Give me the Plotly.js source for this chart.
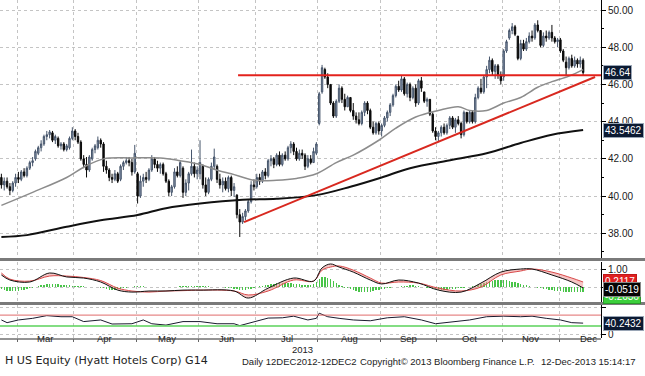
<!DOCTYPE html>
<html><head><meta charset="utf-8">
<script src="https://cdn.plot.ly/plotly-3.0.1.min.js"></script>
<style>html,body{margin:0;padding:0;background:#fff;}#chart{width:645px;height:376px;}</style>
</head><body><div id="chart"></div>
<script>
// ---------- DATA ----------
const firstIdx = -6; // trading-day index of first candle (Mar 1 2013 = 0)
const months = ['Mar','Apr','May','Jun','Jul','Aug','Sep','Oct','Nov','Dec'];
const monthStart = [0,20,42,64,84,106,128,148,171,191,212];
const yearLabel = '2013';

const open = [41.0,40.6,40.8,40.5,40.3,40.7,
41.0,40.9,41.3,41.1,41.5,41.8,42.0,42.3,42.6,42.8,43.2,43.3,43.4,43.0,43.1,42.7,42.8,42.5,42.6,43.1,
43.5,43.2,42.9,42.0,41.7,41.4,42.0,42.5,42.6,43.0,42.8,41.6,41.4,41.0,40.9,41.2,40.9,41.6,41.8,41.9,41.8,41.3,
41.2,40.0,40.8,41.0,40.9,41.4,42.0,41.7,41.5,41.7,41.2,40.8,40.2,40.5,41.3,41.1,41.5,40.2,40.7,41.2,41.6,41.2,
41.2,41.6,40.6,40.2,40.9,41.6,41.6,40.9,40.6,40.8,40.4,41.0,40.3,40.05,39.0,38.6,38.9,39.2,39.7,40.6,
40.5,41.0,40.8,41.3,41.1,41.9,42.0,41.7,42.2,41.7,42.2,42.0,42.6,42.8,42.4,42.0,42.3,42.2,41.6,42.0,41.8,42.3,
43.9,45.6,46.8,46.4,46.0,45.0,44.3,45.1,45.8,45.2,44.8,45.3,44.6,44.3,44.1,43.9,44.5,45.0,44.6,43.7,43.4,43.9,
43.5,43.8,44.2,44.5,44.9,45.4,45.9,45.7,46.3,45.5,46.0,45.3,45.8,45.0,46.2,45.6,45.1,45.2,44.4,43.5,
43.2,43.4,43.7,43.4,43.8,44.2,43.7,44.1,43.9,43.3,44.5,44.0,44.5,44.0,45.3,45.8,45.6,46.4,46.8,47.3,46.7,47.0,46.5,
46.4,47.8,48.5,48.9,49.1,48.6,47.4,48.2,47.9,48.3,48.6,48.5,49.2,48.9,48.1,48.6,48.5,48.8,48.5,48.3,
48.4,47.8,47.2,46.9,47.4,47.0,47.3,47.1,47.3];
const high = [41.2,41.0,41.0,40.7,40.8,41.2,
41.3,41.4,41.5,41.6,41.9,42.1,42.5,42.7,43.0,43.3,43.5,43.55,43.5,43.3,43.2,42.9,42.9,42.8,43.2,43.7,
43.6,43.4,43.0,42.2,42.1,42.2,42.6,42.8,43.2,43.1,42.9,41.9,41.5,41.2,41.4,41.3,41.7,41.9,42.1,42.1,42.0,42.75,
41.3,41.1,41.2,41.3,41.5,42.2,42.1,41.9,41.8,41.8,41.3,40.9,40.6,41.5,41.6,41.9,41.6,40.9,41.3,42.5,41.8,41.6,
43.0,41.7,41.0,41.0,41.8,42.55,41.7,41.2,41.0,41.0,41.1,41.1,40.7,40.1,39.3,39.1,39.3,39.8,40.8,40.9,
41.2,41.2,41.4,41.5,42.0,42.2,42.1,42.3,42.4,42.3,42.4,42.7,42.95,42.9,42.6,42.5,42.5,42.3,42.2,42.2,42.6,42.9,
45.6,47.05,46.9,46.6,46.0,45.1,45.2,46.0,45.9,45.5,45.4,45.3,45.0,44.5,44.5,44.6,45.1,45.1,44.7,44.0,44.0,44.0,
43.9,44.3,44.6,45.0,45.5,46.0,46.2,46.5,46.4,46.1,46.1,45.9,46.0,46.3,46.4,45.6,45.3,45.2,44.5,43.7,
43.5,43.8,43.9,43.9,44.3,44.3,44.2,44.3,44.0,44.6,44.5,44.6,44.6,45.5,45.9,46.3,46.5,47.0,47.5,47.4,47.1,47.1,46.7,
47.9,48.4,49.0,49.3,49.2,48.6,48.4,48.4,48.5,48.8,48.9,49.3,49.45,48.9,48.8,48.9,48.9,49.2,48.6,48.5,
48.5,47.9,47.5,47.5,47.6,47.5,47.4,47.5,47.4];
const low = [40.4,40.3,40.4,40.05,40.2,40.5,
40.7,40.8,41.0,41.0,41.4,41.6,41.9,42.2,42.4,42.7,43.0,43.1,42.9,42.8,42.6,42.5,42.4,42.4,42.5,43.0,
43.0,42.8,41.9,41.5,41.0,41.3,41.9,42.3,42.5,42.6,41.3,41.2,40.8,40.7,40.8,40.7,40.8,41.4,41.7,41.6,41.1,41.2,
39.6,39.9,40.5,40.7,40.8,41.3,41.5,41.3,41.2,41.1,40.7,40.0,40.0,40.4,41.0,41.0,39.9,40.0,40.3,41.1,41.0,40.9,
40.9,40.4,40.0,40.1,40.8,41.4,40.7,40.4,40.2,40.3,40.2,40.0,39.95,38.8,37.8,38.5,38.7,39.1,39.6,40.3,
40.4,40.6,40.7,40.9,41.0,41.6,41.5,41.6,41.6,41.6,41.9,41.9,42.3,42.2,41.9,41.9,42.0,41.4,41.5,41.7,41.8,42.2,
43.8,45.5,46.3,45.8,44.9,44.2,44.2,45.0,45.0,44.6,44.8,44.5,44.1,43.9,43.8,43.8,44.3,44.4,43.6,43.3,43.3,43.3,
43.2,43.7,44.0,44.3,44.8,45.3,45.6,45.6,45.4,45.3,45.1,45.2,44.8,44.9,45.6,45.0,44.8,44.3,43.4,43.0,
42.9,43.2,43.3,43.3,43.6,43.6,43.4,43.8,43.1,43.2,43.9,43.9,43.9,43.9,45.2,45.5,45.5,45.8,46.6,46.5,46.3,46.3,46.0,
46.2,47.7,48.4,48.7,48.6,47.3,47.3,47.8,47.8,48.2,48.3,48.4,48.8,48.0,48.0,48.3,48.4,48.3,48.2,48.0,
47.7,47.2,46.45,46.8,46.9,46.9,46.9,46.9,46.5];
const close = [40.6,40.8,40.5,40.3,40.7,41.0,
40.9,41.3,41.1,41.5,41.8,41.9,42.4,42.6,42.8,43.2,43.3,43.45,43.0,43.2,42.7,42.8,42.5,42.7,43.1,43.5,
43.2,42.9,42.0,41.7,41.4,42.1,42.5,42.7,43.0,42.8,41.6,41.4,41.0,40.9,41.2,40.8,41.6,41.8,41.9,41.8,41.3,42.3,
40.0,40.8,41.0,40.9,41.4,42.0,41.7,41.5,41.7,41.2,40.8,40.2,40.5,41.3,41.1,41.8,40.2,40.7,41.2,41.6,41.2,41.4,
41.8,40.6,40.2,40.9,41.6,42.1,40.9,40.6,40.8,40.4,41.0,40.3,40.5,39.0,38.6,38.9,39.2,39.7,40.6,40.5,
41.0,40.8,41.3,41.1,41.9,42.0,41.7,42.2,41.7,42.2,42.0,42.6,42.8,42.4,42.0,42.3,42.2,41.6,42.0,41.8,42.4,42.8,
45.5,46.9,46.4,46.0,45.0,44.3,45.1,45.8,45.2,44.8,45.3,44.6,44.3,44.1,43.9,44.5,45.0,44.6,43.7,43.4,43.9,43.5,
43.8,44.2,44.5,44.9,45.4,45.9,45.7,46.3,45.5,46.0,45.3,45.8,45.0,46.2,45.8,45.1,45.2,44.4,43.5,43.2,
43.4,43.7,43.4,43.8,44.2,43.7,44.1,43.9,43.3,44.5,44.0,44.5,44.0,45.3,45.8,45.6,46.4,46.8,47.3,46.7,47.0,46.5,46.2,
47.8,48.3,48.9,49.1,48.7,47.4,48.2,47.9,48.3,48.6,48.5,49.2,48.9,48.1,48.6,48.5,48.8,48.5,48.3,48.4,
47.8,47.3,46.9,47.4,47.0,47.3,47.1,47.3,46.64];

const ma50Idx = [-6,5,17,23,30,40,50,57,64,71,75,83,91,98,105,112,118,127,133,140,148,155,159,165,171,177,183,188,194,199];
const ma50Val = [39.5,40.2,41.0,41.55,42.0,42.05,42.05,41.9,41.7,41.35,41.2,40.85,40.85,40.95,41.2,41.8,42.2,43.0,43.65,44.25,44.6,44.8,44.6,44.6,45.0,45.3,45.85,46.15,46.45,46.8];
const ma200Idx = [-6,3,17,29,42,52,64,79,91,105,117,128,138,153,165,177,188,199];
const ma200Val = [37.8,37.9,38.35,38.7,38.98,39.35,39.6,39.8,39.85,40.05,40.5,41.0,41.5,41.95,42.3,42.85,43.3,43.55];

const resIdx = [77.4,205.3], resVal = [46.5,46.5];
const trendIdx = [79.5,203.2], trendVal = [38.6,46.4];

const macdIdx = [-6,-3,4,11,17,23,29,35,40,46,52,58,64,76,81,88,97,104,107,110,113,118,124,128,134,141,148,156,163,170,177,181,188,195,199];
const macdVal = [0.67,0.39,0.28,0.78,0.56,0.5,0.28,-0.17,-0.28,-0.22,-0.22,-0.17,-0.17,-0.22,-0.61,-0.06,0.5,0.33,1.06,1.28,1.11,0.83,0.39,0.17,0.39,0.22,-0.17,-0.28,0.22,0.83,1.0,1.0,0.67,0.28,-0.05];
const signalVal = [0.78,0.44,0.33,0.61,0.61,0.53,0.36,-0.06,-0.22,-0.28,-0.22,-0.2,-0.17,-0.22,-0.44,-0.22,0.39,0.33,0.94,1.11,1.17,0.94,0.5,0.22,0.28,0.22,-0.06,-0.22,0.0,0.67,0.89,1.0,0.83,0.5,0.28];
const histVal = [-0.1,-0.15,-0.2,
-0.2,-0.22,-0.22,-0.2,-0.18,-0.15,-0.12,-0.08,
-0.03,0.02,0.06,
0.1,0.13,0.16,0.17,0.17,0.16,0.15,0.13,0.12,0.1,0.09,0.08,0.07,0.06,0.05,0.04,0.03,0.02,0.01,0.0,-0.02,
-0.05,-0.08,-0.11,-0.14,-0.15,-0.15,-0.13,-0.1,-0.07,
-0.04,-0.02,0.02,0.04,0.05,0.05,0.04,0.03,0.01,-0.01,-0.02,-0.02,-0.01,0.0,0.01,0.02,0.02,0.03,0.03,0.04,0.05,0.06,0.06,
0.07,0.08,0.08,0.07,0.06,0.05,0.04,0.03,0.02,0.01,0.0,-0.02,-0.04,-0.06,
-0.08,-0.1,-0.12,-0.14,-0.15,-0.14,-0.12,-0.09,-0.05,
0.0,0.04,0.08,0.11,0.14,0.17,0.19,0.21,0.22,0.23,0.22,0.21,0.2,0.19,0.17,0.15,0.13,0.12,0.11,0.12,0.15,0.3,0.45,
0.55,0.55,0.5,0.42,0.32,0.22,0.12,0.04,-0.03,
-0.08,-0.13,-0.18,-0.22,-0.25,-0.27,-0.28,-0.27,-0.25,-0.22,-0.19,-0.16,-0.13,-0.1,-0.07,-0.04,-0.02,0.0,0.02,
0.04,0.06,0.08,0.09,0.09,0.08,0.06,0.03,0.0,
-0.03,-0.06,-0.09,-0.12,-0.14,-0.15,-0.15,-0.14,-0.13,-0.12,-0.1,-0.08,-0.06,-0.04,-0.02,0.0,
0.04,0.08,0.13,0.18,0.23,0.28,0.32,0.36,0.38,0.4,0.4,0.39,0.37,0.34,0.3,0.26,0.22,0.18,0.14,0.1,0.06,
0.03,0.0,-0.03,-0.06,-0.09,
-0.12,-0.15,-0.18,-0.2,-0.22,-0.24,-0.26,-0.27,-0.28,-0.29,-0.3,-0.3,-0.3,-0.3];

const rsiIdx = [-6,-4,0,5,10,15,19,23,29,33,40,44,47,52,58,64,70,76,78,83,88,93,97,102,105,106,109,113,118,124,130,136,142,147,153,159,165,171,177,181,186,191,195,199];
const rsiVal = [52,42,52,58,68,64,64,46,52,37,38,52,38,33,46,46,38,38,31,46,59,60,66,52,58,77,64,58,52,49,60,64,52,38,46,52,64,66,64,66,58,52,42,40.24];
const rsiLevels = [70,30];

const lastPrice = 46.64, lastMa200 = 43.5462, lastMacd = -0.0519, lastSignal = 0.2117, lastHist = -0.2636, lastRsi = 40.2432;
const footer = ['H US Equity (Hyatt Hotels Corp) G14','Daily 12DEC2012-12DEC2','Copyright\u00a9 2013 Bloomberg Finance L.P.','12-Dec-2013 15:14:17'];

// ---------- CHART ----------
const N = close.length;
const days = Array.from({length:N}, (_, k) => k + firstIdx);
const FONT = '"Liberation Sans", Arial, sans-serif';
const PH = 339, PW = 601; // plot area size in px
const py = p => (PH - p) / PH;
const grid = monthStart.slice(0, -1).map(v => v - 0.5);

const traces = [
  {type:'candlestick', x:days, open, high, low, close, xaxis:'x', yaxis:'y',
   increasing:{line:{color:'#46556b', width:1}, fillcolor:'#8e9db3'},
   decreasing:{line:{color:'#0a0a0a', width:1}, fillcolor:'#0a0a0a'},
   whiskerwidth:0, hoverinfo:'skip'},
  {type:'scatter', mode:'lines', x:ma50Idx, y:ma50Val, line:{color:'#8c8c8c', width:1.5, shape:'spline'}, xaxis:'x', yaxis:'y'},
  {type:'scatter', mode:'lines', x:ma200Idx, y:ma200Val, line:{color:'#111', width:2, shape:'spline'}, xaxis:'x', yaxis:'y'},
  {type:'scatter', mode:'lines', x:resIdx, y:resVal, line:{color:'#e3221c', width:2}, xaxis:'x', yaxis:'y'},
  {type:'scatter', mode:'lines', x:trendIdx, y:trendVal, line:{color:'#d8281f', width:2}, xaxis:'x', yaxis:'y'},
  {type:'bar', x:days, y:histVal, marker:{color:'#49c449'}, width:0.5, xaxis:'x', yaxis:'y2'},
  {type:'scatter', mode:'lines', x:macdIdx, y:signalVal, line:{color:'#d94a4a', width:1, shape:'spline'}, xaxis:'x', yaxis:'y2'},
  {type:'scatter', mode:'lines', x:macdIdx, y:macdVal, line:{color:'#111', width:1, shape:'spline'}, fill:'tonexty', fillcolor:'rgba(238,140,140,0.5)', xaxis:'x', yaxis:'y2'},
  {type:'scatter', mode:'lines', x:rsiIdx, y:rsiVal, line:{color:'#1a1a2e', width:1}, xaxis:'x', yaxis:'y3'}
];

const yCommon = {side:'right', ticks:'outside', ticklen:4, tickcolor:'#000', showline:true, linecolor:'#000', linewidth:1,
  gridcolor:'#c4c4c4', griddash:'dot', zeroline:false, tickfont:{family:FONT, size:10, color:'#1a1a1a'}, fixedrange:true};

const mainTicks = [38,40,42,44,46,48,50];
const annotations = [];
const txtFont = {family:FONT, size:9.5, color:'#222'};
months.forEach((m, k) => annotations.push({x:(monthStart[k] + monthStart[k+1]) / 2 - 0.5, xref:'x', y:py(346), yref:'paper',
  text:m, showarrow:false, font:txtFont}));
annotations.push({x:100, xref:'x', y:py(357), yref:'paper', text:yearLabel, showarrow:false, font:txtFont});
const footX = [3, 240, 358, 638];
footer.forEach((t, k) => annotations.push({x:footX[k] / PW, xref:'paper', xanchor:k === 3 ? 'right' : 'left', y:py(369), yref:'paper',
  text:t, showarrow:false, font:k === 0 ? {family:'"DejaVu Sans", sans-serif', size:11.1, color:'#222'} : txtFont}));
const box = (y, yref, txt, bg, border) => ({x:1, xref:'paper', xanchor:'left', xshift:2, y, yref, text:txt, showarrow:false,
  bgcolor:bg, bordercolor:border, borderwidth:1, borderpad:1, font:{family:FONT, size:10, color:'#fff'}});
annotations.push(box(lastPrice, 'y', lastPrice.toFixed(2), '#0c1a32', '#9aa6b6'));
annotations.push(box(lastMa200, 'y', lastMa200.toFixed(4), '#0c1a32', '#9aa6b6'));
annotations.push(box(0.3, 'y2', lastSignal.toFixed(4), '#e02020', '#c01818'));
annotations.push(box(-0.52, 'y2', lastHist.toFixed(4), '#3ccf3c', '#2a9a2a'));
annotations.push(box(-0.15, 'y2', lastMacd.toFixed(4), '#050505', '#888'));
annotations.push(box(lastRsi, 'y3', lastRsi.toFixed(4), '#0c1a32', '#9aa6b6'));

const shapes = [
  {type:'line', xref:'paper', yref:'paper', x0:0, x1:1.075, y0:py(259.5), y1:py(259.5), line:{color:'#7a7a7a', width:3}},
  {type:'line', xref:'paper', yref:'paper', x0:0, x1:1.075, y0:py(303.5), y1:py(303.5), line:{color:'#7a7a7a', width:3}},
  {type:'line', xref:'paper', yref:'paper', x0:0, x1:1, y0:0, y1:0, line:{color:'#707070', width:1.5}},
  {type:'line', xref:'paper', yref:'y3', x0:0, x1:1, y0:rsiLevels[0], y1:rsiLevels[0], line:{color:'#e06a6a', width:1}},
  {type:'line', xref:'paper', yref:'y3', x0:0, x1:1, y0:rsiLevels[1], y1:rsiLevels[1], line:{color:'#5ad25a', width:1.5}}
];

const layout = {
  width:645, height:376, margin:{l:0, r:44, t:0, b:37}, paper_bgcolor:'#fff', plot_bgcolor:'#fff',
  showlegend:false, hovermode:false, dragmode:false, bargap:0,
  xaxis:{range:[-6.49, 205.3], anchor:'y3', tickvals:grid, ticktext:grid.map(() => ''), ticks:'outside', ticklen:3, tickcolor:'#666',
    showgrid:true, gridcolor:'#c4c4c4', griddash:'dot', zeroline:false, showline:false, rangeslider:{visible:false}, fixedrange:true},
  yaxis:Object.assign({}, yCommon, {domain:[py(258), 1], range:[36.67, 50.54], tickvals:mainTicks, ticktext:mainTicks.map(v => v.toFixed(2)),
    minor:{dtick:1, tick0:37, ticks:'outside', ticklen:2, tickcolor:'#000', showgrid:false}}),
  yaxis2:Object.assign({}, yCommon, {domain:[py(302), py(262)], range:[-0.83, 1.39], tickvals:[0, 1], ticktext:['', '1.00']}),
  yaxis3:Object.assign({}, yCommon, {domain:[py(338), py(305)], range:[-14.8, 107.4], tickvals:[0, 100], ticktext:['0', '']}),
  annotations, shapes
};

Plotly.newPlot('chart', traces, layout, {staticPlot:true, displayModeBar:false});
</script></body></html>
